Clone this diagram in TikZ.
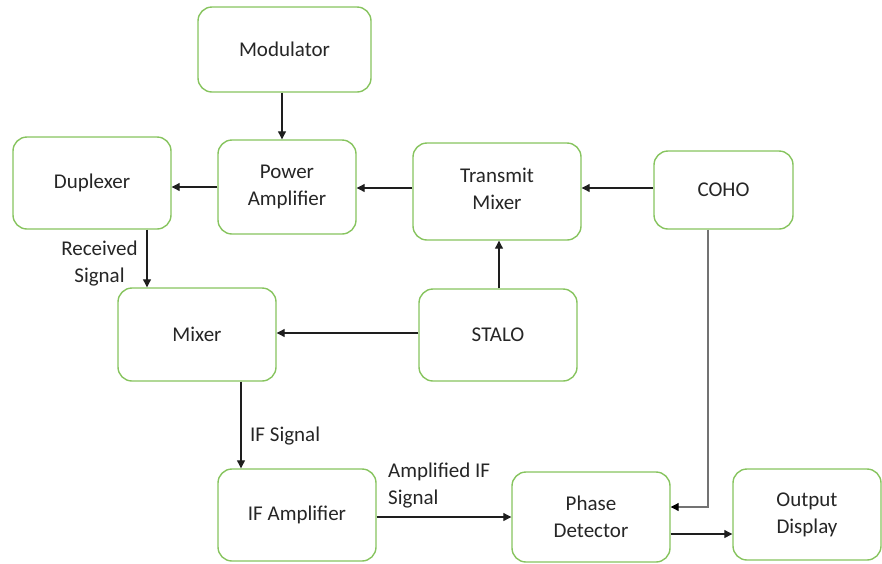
\documentclass[tikz,border=0pt]{standalone}
\usepackage{fontspec}
\setmainfont{Carlito}
\usetikzlibrary{arrows.meta}
\definecolor{boxgreen}{RGB}{135,196,95}
\definecolor{wire}{RGB}{30,30,30}
\definecolor{cohowire}{RGB}{115,115,115}
\tikzset{
  block/.style={draw=boxgreen, line width=1.4pt, rounded corners=14pt, fill=white,
    align=center, inner sep=0pt, font=\fontsize{21}{27}\selectfont, text=black!85},
  link/.style={draw=wire, line width=1.1pt, -{Triangle[length=8pt,width=8pt]}},
  cohollink/.style={draw=cohowire, line width=1.1pt, -{Triangle[length=8pt,width=8pt,color=black]}},
  lbl/.style={font=\fontsize{21}{27}\selectfont, text=black!85, inner sep=0pt}
}
\begin{document}
\begin{tikzpicture}[x=1pt,y=-1pt]
  \useasboundingbox (0,0) rectangle (882,563);
  % blocks: centre (x,y), size
  \node[block, minimum width=173pt, minimum height=85pt] (mod) at (284.5,49.5) {Modulator};
  \node[block, minimum width=158pt, minimum height=92pt] (dup) at (92,183) {Duplexer};
  \node[block, minimum width=138pt, minimum height=94pt] (pa) at (287,187) {Power\\Amplifier};
  \node[block, minimum width=168pt, minimum height=97pt,
        label={[lbl, align=center, yshift=3pt]center:Transmit\\Mixer}] (tm) at (497,191.5) {};
  \node[block, minimum width=139pt, minimum height=78pt] (coho) at (723.5,190) {COHO};
  \node[block, minimum width=158pt, minimum height=93pt] (mix) at (197,334.5) {Mixer};
  \node[block, minimum width=158pt, minimum height=92pt] (stalo) at (498,335) {STALO};
  \node[block, minimum width=158pt, minimum height=92pt] (ifa) at (297,515) {IF Amplifier};
  \node[block, minimum width=158pt, minimum height=90pt] (pd) at (591,517) {Phase\\Detector};
  \node[block, minimum width=148pt, minimum height=91pt] (out) at (807,514.5) {Output\\Display};

  % transmit chain
  \draw[link] (mod.south -| 282,0) -- (pa.north -| 282,0);
  \draw[link] (pa.west |- 0,187) -- (dup.east |- 0,187);
  \draw[link] (tm.west |- 0,188) -- (pa.east |- 0,188);
  \draw[link] (coho.west |- 0,188) -- (tm.east |- 0,188);
  \draw[link] (stalo.north -| 499,0) -- (tm.south -| 499,0);

  % receive chain
  \draw[link] (dup.south -| 147,0) -- (mix.north -| 147,0);
  \draw[link] (stalo.west |- 0,333) -- (mix.east |- 0,333);
  \draw[link] (mix.south -| 241,0) -- (ifa.north -| 241,0);
  \draw[link] (ifa.east |- 0,517) -- (pd.west |- 0,517);
  \draw[cohollink] (coho.south -| 708,0) |- (pd.east |- 0,507);
  \draw[link] (pd.east |- 0,534) -- (out.west |- 0,534);

  % signal labels
  \node[lbl, align=center] (rx) at (99.5,263.5) {Received\\Signal};
  \node[lbl, anchor=west] (ifs) at (250,436) {IF Signal};
  \node[lbl, align=left, anchor=north west] (aifs) at (388,463) {Amplified IF\\Signal};
\end{tikzpicture}
\end{document}
